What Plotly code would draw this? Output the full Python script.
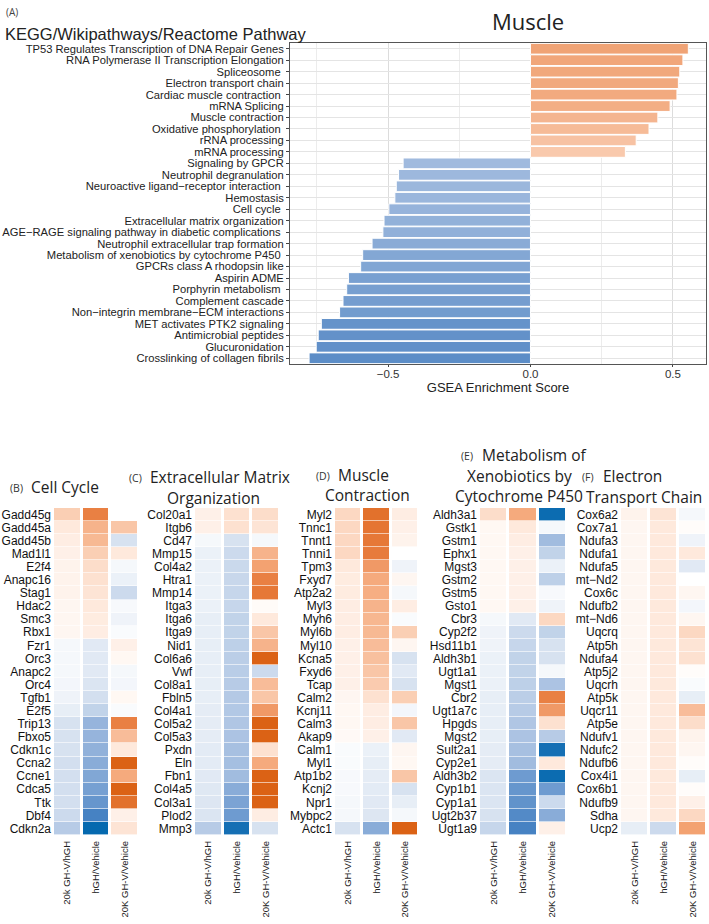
import plotly.graph_objects as go
import numpy as np

W, H = 709, 924

# ---------------- Data: GSEA bar chart ----------------
pathways = [
    "TP53 Regulates Transcription of DNA Repair Genes",
    "RNA Polymerase II Transcription Elongation",
    "Spliceosome ",
    "Electron transport chain",
    "Cardiac muscle contraction ",
    "mRNA Splicing",
    "Muscle contraction",
    "Oxidative phosphorylation ",
    "rRNA processing",
    "mRNA processing",
    "Signaling by GPCR",
    "Neutrophil degranulation",
    "Neuroactive ligand\u2212receptor interaction ",
    "Hemostasis",
    "Cell cycle ",
    "Extracellular matrix organization",
    "AGE\u2212RAGE signaling pathway in diabetic complications ",
    "Neutrophil extracellular trap formation",
    "Metabolism of xenobiotics by cytochrome P450 ",
    "GPCRs class A rhodopsin like",
    "Aspirin ADME",
    "Porphyrin metabolism ",
    "Complement cascade",
    "Non\u2212integrin membrane\u2212ECM interactions",
    "MET activates PTK2 signaling",
    "Antimicrobial peptides",
    "Glucuronidation",
    "Crosslinking of collagen fibrils",
]
enrichment = [0.554, 0.535, 0.524, 0.519, 0.514, 0.490, 0.447, 0.416, 0.371, 0.333,
              -0.447, -0.463, -0.471, -0.476, -0.497, -0.514, -0.518, -0.556, -0.589,
              -0.596, -0.639, -0.645, -0.658, -0.670, -0.734, -0.745, -0.752, -0.777]

# ---------------- Data: heatmaps ----------------
conditions = ["20k GH-V/hGH", "hGH/Vehicle", "20K GH-V/Vehicle"]

cc_genes = ["Gadd45g", "Gadd45a", "Gadd45b", "Mad1l1", "E2f4", "Anapc16", "Stag1", "Hdac2",
            "Smc3", "Rbx1", "Fzr1", "Orc3", "Anapc2", "Orc4", "Tgfb1", "E2f5", "Trip13",
            "Fbxo5", "Cdkn1c", "Ccna2", "Ccne1", "Cdca5", "Ttk", "Dbf4", "Cdkn2a"]
cc_20k_hgh = [0.30, 0.15, 0.12, 0.10, 0.08, 0.08, 0.08, 0.06, 0.06, 0.06, -0.05, -0.05, -0.05,
              -0.06, -0.08, -0.12, -0.20, -0.20, -0.20, -0.22, -0.22, -0.22, -0.22, -0.25, -0.35]
cc_hgh_veh = [0.75, 0.45, 0.42, 0.30, 0.22, 0.20, 0.18, 0.15, 0.13, 0.12, -0.15, -0.15, -0.15,
              -0.18, -0.22, -0.30, -0.50, -0.50, -0.52, -0.55, -0.58, -0.62, -0.68, -0.80, -1.00]
cc_20k_veh = [None, 0.35, -0.20, 0.15, -0.05, -0.10, -0.25, -0.04, -0.08, -0.03, 0.10, 0.05, -0.05,
              -0.06, 0.05, -0.03, 0.75, 0.40, 0.15, 0.95, 0.50, 0.95, 0.85, 0.10, 0.18]

ecm_genes = ["Col20a1", "Itgb6", "Cd47", "Mmp15", "Col4a2", "Htra1", "Mmp14", "Itga3", "Itga6",
             "Itga9", "Nid1", "Col6a6", "Vwf", "Col8a1", "Fbln5", "Col4a1", "Col5a2", "Col5a3",
             "Pxdn", "Eln", "Fbn1", "Col4a5", "Col3a1", "Plod2", "Mmp3"]
ecm_20k_hgh = [0.10, 0.10, -0.05, -0.10, -0.10, -0.10, -0.10, -0.10, -0.12, -0.12, -0.12, -0.12,
               -0.12, -0.12, -0.12, -0.13, -0.13, -0.13, -0.14, -0.14, -0.15, -0.16, -0.17, -0.18, -0.35]
ecm_hgh_veh = [0.20, 0.20, -0.20, -0.25, -0.26, -0.27, -0.28, -0.28, -0.30, -0.30, -0.32, -0.33,
               -0.34, -0.35, -0.36, -0.37, -0.38, -0.40, -0.42, -0.43, -0.45, -0.55, -0.60, -0.65, -0.95]
ecm_20k_veh = [0.22, 0.18, -0.05, 0.45, 0.55, 0.75, 0.80, 0.03, 0.15, 0.35, 0.45, 0.95, -0.25,
               0.40, 0.35, 0.60, 0.95, 0.95, 0.20, 0.50, 0.95, 0.95, 0.95, 0.12, -0.20]

mc_genes = ["Myl2", "Tnnc1", "Tnnt1", "Tnni1", "Tpm3", "Fxyd7", "Atp2a2", "Myl3", "Myh6", "Myl6b",
            "Myl10", "Kcna5", "Fxyd6", "Tcap", "Calm2", "Kcnj11", "Calm3", "Akap9", "Calm1",
            "Myl1", "Atp1b2", "Kcnj2", "Npr1", "Mybpc2", "Actc1"]
mc_20k_hgh = [0.25, 0.25, 0.25, 0.25, 0.15, 0.13, 0.13, 0.12, 0.12, 0.12, 0.10, 0.10, 0.10, 0.10,
              0.06, 0.05, 0.05, 0.04, -0.03, -0.03, -0.04, -0.04, -0.05, -0.05, -0.20]
mc_hgh_veh = [0.85, 0.82, 0.80, 0.78, 0.60, 0.50, 0.48, 0.45, 0.43, 0.42, 0.40, 0.38, 0.35, 0.32,
              0.20, 0.12, 0.12, 0.10, -0.10, -0.12, -0.13, -0.14, -0.15, -0.17, -0.55]
mc_20k_veh = [0.12, 0.10, 0.08, 0.00, -0.08, 0.06, -0.05, 0.12, -0.03, 0.30, 0.06, -0.20, -0.15,
              -0.20, 0.30, -0.06, 0.35, -0.15, 0.06, 0.05, 0.35, -0.20, -0.12, -0.05, 0.95]

xb_genes = ["Aldh3a1", "Gstk1", "Gstm1", "Ephx1", "Mgst3", "Gstm2", "Gstm5", "Gsto1", "Cbr3",
            "Cyp2f2", "Hsd11b1", "Aldh3b1", "Ugt1a1", "Mgst1", "Cbr2", "Ugt1a7c", "Hpgds",
            "Mgst2", "Sult2a1", "Cyp2e1", "Aldh3b2", "Cyp1b1", "Cyp1a1", "Ugt2b37", "Ugt1a9"]
xb_20k_hgh = [0.22, 0.05, 0.05, 0.05, 0.05, 0.05, 0.05, 0.05, -0.05, -0.08, -0.08, -0.10, -0.10,
              -0.10, -0.12, -0.12, -0.12, -0.12, -0.13, -0.13, -0.18, -0.18, -0.18, -0.20, -0.28]
xb_hgh_veh = [0.50, 0.15, 0.12, 0.10, 0.10, 0.10, 0.10, 0.10, -0.15, -0.25, -0.28, -0.30, -0.30,
              -0.32, -0.33, -0.35, -0.38, -0.40, -0.42, -0.45, -0.65, -0.68, -0.70, -0.75, -0.80]
xb_20k_veh = [-0.98, -0.05, -0.45, -0.30, -0.10, -0.32, -0.04, -0.08, 0.25, -0.30, -0.20, -0.20,
              -0.05, -0.40, 0.75, 0.60, 0.20, -0.35, -0.95, 0.15, -0.98, -0.65, -0.25, -0.55, 0.10]

etc_genes = ["Cox6a2", "Cox7a1", "Ndufa3", "Ndufa1", "Ndufa5", "mt\u2212Nd2", "Cox6c", "Ndufb2",
             "mt\u2212Nd6", "Uqcrq", "Atp5h", "Ndufa4", "Atp5j2", "Uqcrh", "Atp5k", "Uqcr11",
             "Atp5e", "Ndufv1", "Ndufc2", "Ndufb6", "Cox4i1", "Cox6b1", "Ndufb9", "Sdha", "Ucp2"]
etc_20k_hgh = [0.08, 0.06, 0.06, 0.06, 0.06, 0.06, 0.06, 0.06, 0.06, 0.06, 0.06, 0.06, 0.06,
               0.06, 0.06, 0.06, 0.06, 0.06, 0.06, 0.06, 0.06, 0.06, 0.06, 0.06, -0.12]
etc_hgh_veh = [0.18, 0.15, 0.15, 0.15, 0.15, 0.15, 0.15, 0.15, 0.15, 0.15, 0.15, 0.15, 0.15,
               0.15, 0.15, 0.15, 0.15, 0.15, 0.15, 0.15, 0.15, 0.15, 0.15, 0.15, -0.25]
etc_20k_veh = [-0.05, 0.02, -0.08, 0.15, -0.15, 0.00, 0.06, -0.06, 0.06, 0.25, 0.18, 0.20, 0.02,
               -0.03, -0.12, 0.40, 0.22, 0.08, 0.06, 0.02, -0.12, 0.02, 0.10, 0.25, 0.55]

panels = [
    ("(B)", "Cell Cycle", cc_genes, [cc_20k_hgh, cc_hgh_veh, cc_20k_veh]),
    ("(C)", "Extracellular Matrix<br>Organization", ecm_genes, [ecm_20k_hgh, ecm_hgh_veh, ecm_20k_veh]),
    ("(D)", "Muscle<br>Contraction", mc_genes, [mc_20k_hgh, mc_hgh_veh, mc_20k_veh]),
    ("(E)", "Metabolism of<br>Xenobiotics by<br>Cytochrome P450", xb_genes, [xb_20k_hgh, xb_hgh_veh, xb_20k_veh]),
    ("(F)", "Electron<br>Transport Chain", etc_genes, [etc_20k_hgh, etc_hgh_veh, etc_20k_veh]),
]

# ---------------- helpers ----------------
def px(x):
    return x / W

def py(y):
    return 1 - y / H

def lerp(c1, c2, t):
    return "rgb(%d,%d,%d)" % tuple(round(a + (b - a) * t) for a, b in zip(c1, c2))

pos_vals = [v for v in enrichment if v > 0]
neg_vals = [v for v in enrichment if v < 0]
bar_colors = []
for v in enrichment:
    if v > 0:
        t = (v - min(pos_vals)) / (max(pos_vals) - min(pos_vals))
        bar_colors.append(lerp((249, 201, 172), (240, 163, 117), t))
    else:
        t = (v - max(neg_vals)) / (min(neg_vals) - max(neg_vals))
        bar_colors.append(lerp((160, 186, 222), (92, 141, 199), t))

fig = go.Figure()

fig.add_trace(go.Bar(
    x=enrichment, y=pathways, orientation="h",
    marker=dict(color=bar_colors, line=dict(color="white", width=1)),
    xaxis="x", yaxis="y", showlegend=False,
))

layout = dict(
    width=W, height=H,
    margin=dict(l=0, r=0, t=0, b=0),
    paper_bgcolor="white", plot_bgcolor="white",
    bargap=0.06,
    font=dict(family="Liberation Sans, Arial", color="#222"),
    xaxis=dict(domain=[px(290), px(706)], anchor="y", range=[-0.844, 0.616],
               tickvals=[-0.5, 0, 0.5], ticktext=["\u22120.5", "0.0", "0.5"],
               ticks="outside", ticklen=2, tickcolor="#444",
               tickfont=dict(size=11.5, color="#333"), ticklabelstandoff=-3,
               showgrid=True, gridcolor="#dcdcdc", gridwidth=1,
               minor=dict(dtick=0.25, tick0=0, showgrid=True, gridcolor="#ececec", gridwidth=0.8),
               zeroline=False, showline=True, linecolor="#555", mirror=True, linewidth=1,
               title=dict(text="GSEA Enrichment Score", font=dict(size=13, color="#222"), standoff=0)),
    yaxis=dict(domain=[py(364), py(43)], anchor="x", autorange="reversed",
               tickmode="array", tickvals=pathways, ticktext=pathways,
               ticks="outside", ticklen=3, tickcolor="#444",
               tickfont=dict(size=11.2, color="#222"),
               showgrid=True, gridcolor="#e4e4e4",
               showline=True, linecolor="#555", mirror=True, linewidth=1),
)

colorscale = [
    [0.0, "rgb(5,105,175)"],
    [0.1, "rgb(70,130,195)"],
    [0.25, "rgb(150,180,220)"],
    [0.4, "rgb(215,226,240)"],
    [0.5, "rgb(255,255,255)"],
    [0.6, "rgb(253,225,208)"],
    [0.75, "rgb(245,170,125)"],
    [0.9, "rgb(230,120,55)"],
    [1.0, "rgb(215,90,10)"],
]

heat_x = [(53, 139), (194, 280), (334, 419), (479, 567), (620, 707)]
heat_top, heat_bottom = 508, 835

annotations = [
    dict(text="(A)", x=px(4), y=py(12), xref="paper", yref="paper", xanchor="left", yanchor="middle",
         showarrow=False, font=dict(size=10, color="#444", family="Open Sans")),
    dict(text="KEGG/Wikipathways/Reactome Pathway", x=px(3), y=py(34), xref="paper", yref="paper",
         xanchor="left", yanchor="middle", showarrow=False, font=dict(size=16.5, color="#222")),
    dict(text="Muscle", x=px(528), y=py(21), xref="paper", yref="paper", xanchor="center",
         yanchor="middle", showarrow=False, font=dict(size=22, color="#222", family="Open Sans")),
]

title_specs = [
    # (letter center x, first-line y, continuation-line center x)
    (16, 487, 76),
    (135, 477, 214),
    (323, 475, 367),
    (467, 455, 519),
    (588, 476, 644),
]

for i, (letter, title, genes, cols) in enumerate(panels):
    k = i + 2
    xa, ya = "x%d" % k, "y%d" % k
    z = [[cols[c][r] if cols[c][r] is not None else np.nan for c in range(3)] for r in range(len(genes))]
    fig.add_trace(go.Heatmap(
        z=z, x=conditions, y=genes, xaxis=xa, yaxis=ya,
        colorscale=colorscale, zmin=-1, zmax=1, showscale=False,
        xgap=3, ygap=0.6, hoverongaps=False,
    ))
    x0, x1 = heat_x[i]
    layout["xaxis%d" % k] = dict(domain=[px(x0), px(x1)], anchor=ya, tickangle=-90,
                                 tickmode="array", tickvals=conditions, ticktext=conditions,
                                 tickfont=dict(size=9.5, color="#222"), ticks="",
                                 ticklabelstandoff=3,
                                 showgrid=False, zeroline=False, showline=False)
    layout["yaxis%d" % k] = dict(domain=[py(heat_bottom), py(heat_top)], anchor=xa,
                                 autorange="reversed", tickmode="array", tickvals=genes, ticktext=genes,
                                 tickfont=dict(size=12, color="#111"),
                                 ticks="", showgrid=False, zeroline=False, showline=False,
                                 ticklabelstandoff=1)
    lx, ty, tx = title_specs[i]
    lines = title.split("<br>")
    annotations.append(dict(text=letter, x=px(lx), y=py(ty + 1), xref="paper",
                            yref="paper", xanchor="center", yanchor="middle", showarrow=False,
                            font=dict(size=10.5, color="#333", family="Open Sans")))
    for j, line in enumerate(lines):
        if j == 0:
            annotations.append(dict(text=line, x=px(lx + 13), y=py(ty), xref="paper", yref="paper",
                                    xanchor="left", yanchor="middle", showarrow=False,
                                    font=dict(size=15.5, color="#222", family="Open Sans")))
        else:
            annotations.append(dict(text=line, x=px(tx), y=py(ty + 20.5 * j), xref="paper", yref="paper",
                                    xanchor="center", yanchor="middle", showarrow=False,
                                    font=dict(size=15.5, color="#222", family="Open Sans")))

layout["annotations"] = annotations
fig.update_layout(**layout)
fig.write_html("out.html")
